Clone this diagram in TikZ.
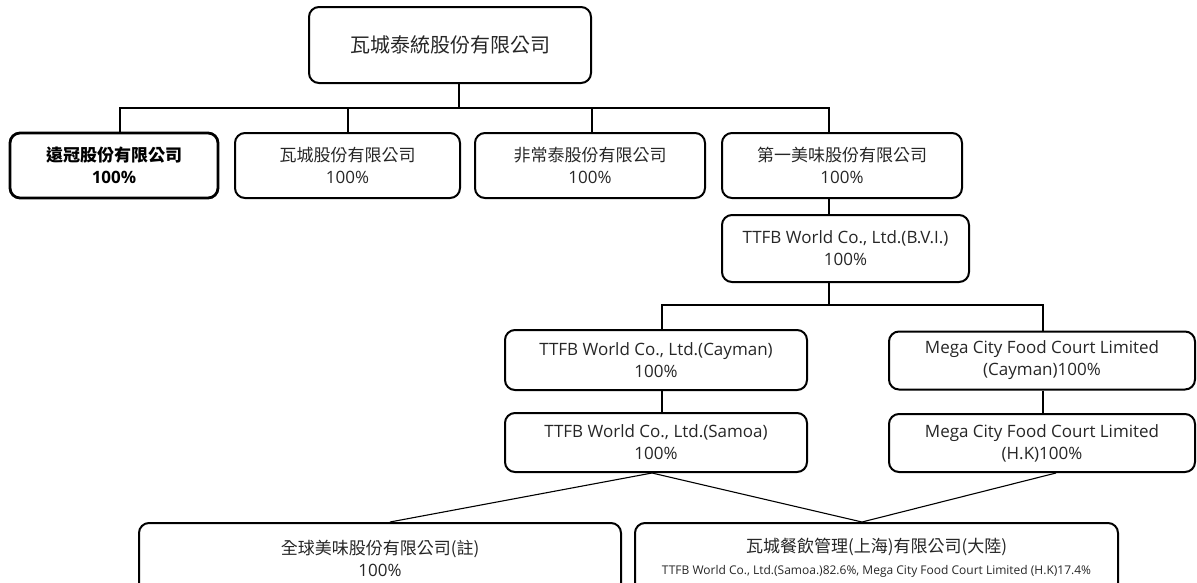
\documentclass[tikz,border=0pt]{standalone}
\usepackage{fontspec}
\setmainfont{Open Sans}
\newfontfamily\cjk{Noto Sans CJK TC}
\usetikzlibrary{calc}
\tikzset{
  orgbox/.style={draw=black, line width=2pt, rounded corners=10pt, inner sep=0pt,
    align=center, text=black!85, font=\fontsize{17}{22}\selectfont},
  keybox/.style={orgbox, line width=2.8pt, text=black, font=\fontsize{17}{22}\selectfont\bfseries},
  link/.style={draw=black, line width=1.1pt},
}
\begin{document}
\begin{tikzpicture}[x=1pt,y=-1pt]
\useasboundingbox (0,0) rectangle (1197,582);
\clip (0,0) rectangle (1197,582);
% column coordinates
\coordinate (c0) at (459,0);
\coordinate (c1) at (120,0);
\coordinate (c2) at (348,0);
\coordinate (c3) at (592,0);
\coordinate (c4) at (829,0);
\coordinate (c5) at (662,0);
\coordinate (c6) at (1043,0);
\coordinate (c7) at (390,0);
\coordinate (c8) at (862,0);
\coordinate (c9) at (1056,0);
\coordinate (c10) at (652,0);
% nodes
\node[orgbox, minimum width=282pt, minimum height=76pt] (top) at (450,45)
  {{\cjk\fontsize{20}{24}\selectfont 瓦城泰統股份有限公司}};
\node[keybox, minimum width=208pt, minimum height=65pt] (b1) at (114,165.5)
  {{\cjk\bfseries 遠冠股份有限公司}\\{\bfseries 100\%}};
\node[orgbox, minimum width=225pt, minimum height=65pt] (b2) at (347.5,165.5)
  {{\cjk 瓦城股份有限公司}\\100\%};
\node[orgbox, minimum width=230pt, minimum height=65pt] (b3) at (590,165.5)
  {{\cjk 非常泰股份有限公司}\\100\%};
\node[orgbox, minimum width=240pt, minimum height=65pt] (b4) at (842,165.5)
  {{\cjk 第一美味股份有限公司}\\100\%};
\node[orgbox, minimum width=247pt, minimum height=67pt] (bvi) at (845.5,248.5)
  {TTFB World Co., Ltd.(B.V.I.)\\100\%};
\node[orgbox, minimum width=302pt, minimum height=60pt] (cay) at (656,360)
  {TTFB World Co., Ltd.(Cayman)\\100\%};
\node[orgbox, minimum width=306pt, minimum height=58pt] (mcay) at (1042,360.5)
  {Mega City Food Court Limited\\(Cayman)100\%};
\node[orgbox, minimum width=302pt, minimum height=59pt] (sam) at (656,442.5)
  {TTFB World Co., Ltd.(Samoa)\\100\%};
\node[orgbox, minimum width=306pt, minimum height=58pt] (mhk) at (1042,443)
  {Mega City Food Court Limited\\(H.K)100\%};
\node[orgbox, minimum width=482pt, minimum height=70pt] (gl) at (380,558)
  {{\cjk 全球美味股份有限公司(註)}\\100\%};
\node[orgbox, minimum width=483pt, minimum height=70pt] (wc) at (876.5,558)
  {{\cjk 瓦城餐飲管理(上海)有限公司(大陸)}\\{\fontsize{12}{15}\selectfont TTFB World Co., Ltd.(Samoa.)82.6\%, Mega City Food Court Limited (H.K)17.4\%}};
% connectors
\coordinate (bar1) at (459,108);
\coordinate (bar2) at (829,305);
\draw[link] (top.south -| c0) -- (bar1);
\draw[link] (b1.north -| c1) |- (bar1) -| (b4.north -| c4);
\draw[link] (b2.north -| c2) -- (bar1 -| c2);
\draw[link] (b3.north -| c3) -- (bar1 -| c3);
\draw[link] (b4.south -| c4) -- (bvi.north -| c4);
\draw[link] (bvi.south -| c4) -- (bar2);
\draw[link] (cay.north -| c5) |- (bar2) -| (mcay.north -| c6);
\draw[link] (cay.south -| c5) -- (sam.north -| c5);
\draw[link] (mcay.south -| c6) -- (mhk.north -| c6);
\draw[link] (sam.south -| c10) -- (gl.north -| c7);
\draw[link] (sam.south -| c10) -- (wc.north -| c8);
\draw[link] (mhk.south -| c9) -- (wc.north -| c8);
\end{tikzpicture}
\end{document}
